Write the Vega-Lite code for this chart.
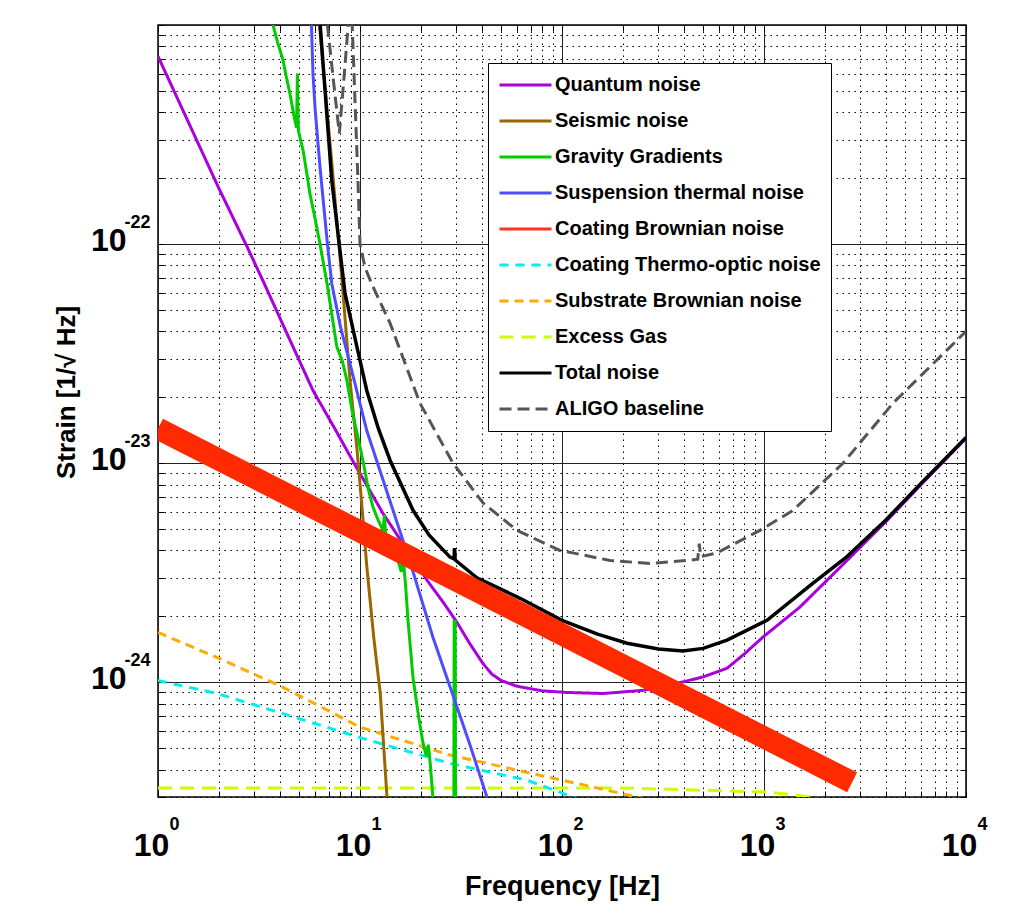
{
  "$schema": "https://vega.github.io/schema/vega-lite/v6.json",
  "width": 808,
  "height": 772,
  "autosize": "none",
  "padding": {"left": 158, "top": 25, "right": 45, "bottom": 124},
  "background": "white",
  "config": {
    "font": "Liberation Sans",
    "view": {"stroke": "black", "strokeWidth": 1.5},
    "axis": {"labelFont": "Liberation Sans", "titleFont": "Liberation Sans", "labelColor": "black", "titleColor": "black", "tickColor": "black", "domain": false}
  },
  "data": {"values": [
    {"series": "ALIGO baseline", "f": 6.9, "s": 1e-21},
    {"series": "ALIGO baseline", "f": 7.4, "s": 5.5e-22},
    {"series": "ALIGO baseline", "f": 7.9, "s": 3.2e-22},
    {"series": "ALIGO baseline", "f": 8.3, "s": 5.5e-22},
    {"series": "ALIGO baseline", "f": 8.74, "s": 1e-21},
    {"series": "ALIGO baseline", "f": 8.95, "s": 1.8e-21},
    {"series": "ALIGO baseline", "f": 9.15, "s": 1e-21},
    {"series": "ALIGO baseline", "f": 9.77, "s": 1.95e-22},
    {"series": "ALIGO baseline", "f": 10.0, "s": 1.0e-22},
    {"series": "ALIGO baseline", "f": 10.6, "s": 7.8e-23},
    {"series": "ALIGO baseline", "f": 11.5, "s": 6.5e-23},
    {"series": "ALIGO baseline", "f": 14.1, "s": 4.35e-23},
    {"series": "ALIGO baseline", "f": 19.8, "s": 1.88e-23},
    {"series": "ALIGO baseline", "f": 28.9, "s": 1.0e-23},
    {"series": "ALIGO baseline", "f": 40.6, "s": 6.6e-24},
    {"series": "ALIGO baseline", "f": 59.9, "s": 4.94e-24},
    {"series": "ALIGO baseline", "f": 97.6, "s": 4.0e-24},
    {"series": "ALIGO baseline", "f": 113, "s": 3.9e-24},
    {"series": "ALIGO baseline", "f": 173, "s": 3.6e-24},
    {"series": "ALIGO baseline", "f": 273, "s": 3.49e-24},
    {"series": "ALIGO baseline", "f": 416, "s": 3.6e-24},
    {"series": "ALIGO baseline", "f": 470, "s": 3.65e-24},
    {"series": "ALIGO baseline", "f": 478, "s": 4.3e-24},
    {"series": "ALIGO baseline", "f": 486, "s": 3.75e-24},
    {"series": "ALIGO baseline", "f": 585, "s": 3.9e-24},
    {"series": "ALIGO baseline", "f": 955, "s": 4.94e-24},
    {"series": "ALIGO baseline", "f": 1393, "s": 6.1e-24},
    {"series": "ALIGO baseline", "f": 2460, "s": 1.0e-23},
    {"series": "ALIGO baseline", "f": 4350, "s": 1.88e-23},
    {"series": "ALIGO baseline", "f": 10000, "s": 4.0e-23},

    {"series": "Excess Gas", "f": 1, "s": 3.3e-25},
    {"series": "Excess Gas", "f": 200, "s": 3.3e-25},
    {"series": "Excess Gas", "f": 450, "s": 3.23e-25},
    {"series": "Excess Gas", "f": 1035, "s": 3.16e-25},
    {"series": "Excess Gas", "f": 1750, "s": 3.0e-25},
    {"series": "Excess Gas", "f": 2500, "s": 2.8e-25},

    {"series": "Substrate Brownian noise", "f": 1, "s": 1.69e-24},
    {"series": "Substrate Brownian noise", "f": 1.96, "s": 1.3e-24},
    {"series": "Substrate Brownian noise", "f": 4.16, "s": 9.5e-25},
    {"series": "Substrate Brownian noise", "f": 10, "s": 6.25e-25},
    {"series": "Substrate Brownian noise", "f": 27.9, "s": 4.66e-25},
    {"series": "Substrate Brownian noise", "f": 100, "s": 3.58e-25},
    {"series": "Substrate Brownian noise", "f": 235, "s": 3.0e-25},
    {"series": "Substrate Brownian noise", "f": 400, "s": 2.65e-25},

    {"series": "Coating Thermo-optic noise", "f": 1, "s": 1.02e-24},
    {"series": "Coating Thermo-optic noise", "f": 1.96, "s": 8.9e-25},
    {"series": "Coating Thermo-optic noise", "f": 4.16, "s": 7.2e-25},
    {"series": "Coating Thermo-optic noise", "f": 10, "s": 5.6e-25},
    {"series": "Coating Thermo-optic noise", "f": 27.9, "s": 4.27e-25},
    {"series": "Coating Thermo-optic noise", "f": 67, "s": 3.58e-25},
    {"series": "Coating Thermo-optic noise", "f": 100, "s": 3.13e-25},
    {"series": "Coating Thermo-optic noise", "f": 150, "s": 2.7e-25},

    {"series": "Quantum noise", "f": 1, "s": 7.2e-22},
    {"series": "Quantum noise", "f": 1.5, "s": 3.2e-22},
    {"series": "Quantum noise", "f": 2, "s": 1.8e-22},
    {"series": "Quantum noise", "f": 2.75, "s": 9.8e-23},
    {"series": "Quantum noise", "f": 3.31, "s": 6.8e-23},
    {"series": "Quantum noise", "f": 4.5, "s": 3.65e-23},
    {"series": "Quantum noise", "f": 5.85, "s": 2.15e-23},
    {"series": "Quantum noise", "f": 7.5, "s": 1.44e-23},
    {"series": "Quantum noise", "f": 9.35, "s": 1.0e-23},
    {"series": "Quantum noise", "f": 13, "s": 5.9e-24},
    {"series": "Quantum noise", "f": 17, "s": 4.06e-24},
    {"series": "Quantum noise", "f": 21.5, "s": 2.92e-24},
    {"series": "Quantum noise", "f": 26, "s": 2.3e-24},
    {"series": "Quantum noise", "f": 30.2, "s": 1.88e-24},
    {"series": "Quantum noise", "f": 35, "s": 1.5e-24},
    {"series": "Quantum noise", "f": 40.6, "s": 1.22e-24},
    {"series": "Quantum noise", "f": 45, "s": 1.09e-24},
    {"series": "Quantum noise", "f": 50, "s": 1.02e-24},
    {"series": "Quantum noise", "f": 60, "s": 9.6e-25},
    {"series": "Quantum noise", "f": 80, "s": 9.15e-25},
    {"series": "Quantum noise", "f": 106, "s": 9.0e-25},
    {"series": "Quantum noise", "f": 160, "s": 8.9e-25},
    {"series": "Quantum noise", "f": 252, "s": 9.2e-25},
    {"series": "Quantum noise", "f": 371, "s": 9.9e-25},
    {"series": "Quantum noise", "f": 500, "s": 1.06e-24},
    {"series": "Quantum noise", "f": 656, "s": 1.16e-24},
    {"series": "Quantum noise", "f": 800, "s": 1.35e-24},
    {"series": "Quantum noise", "f": 988, "s": 1.61e-24},
    {"series": "Quantum noise", "f": 1500, "s": 2.2e-24},
    {"series": "Quantum noise", "f": 2576, "s": 3.6e-24},
    {"series": "Quantum noise", "f": 4000, "s": 5.4e-24},
    {"series": "Quantum noise", "f": 6000, "s": 8.0e-24},
    {"series": "Quantum noise", "f": 10000, "s": 1.3e-23},

    {"series": "Seismic noise", "f": 6.3, "s": 1e-21},
    {"series": "Seismic noise", "f": 7.25, "s": 2.35e-22},
    {"series": "Seismic noise", "f": 8.15, "s": 6.8e-23},
    {"series": "Seismic noise", "f": 8.92, "s": 2.4e-23},
    {"series": "Seismic noise", "f": 9.67, "s": 1.15e-23},
    {"series": "Seismic noise", "f": 10.2, "s": 6.5e-24},
    {"series": "Seismic noise", "f": 10.8, "s": 3.4e-24},
    {"series": "Seismic noise", "f": 11.7, "s": 1.6e-24},
    {"series": "Seismic noise", "f": 12.6, "s": 8.9e-25},
    {"series": "Seismic noise", "f": 13.6, "s": 3.0e-25},
    {"series": "Seismic noise", "f": 14.5, "s": 1.2e-25},

    {"series": "Gravity Gradients", "f": 3.6, "s": 1.2e-21},
    {"series": "Gravity Gradients", "f": 3.71, "s": 1e-21},
    {"series": "Gravity Gradients", "f": 3.9, "s": 8.4e-22},
    {"series": "Gravity Gradients", "f": 4.16, "s": 6.9e-22},
    {"series": "Gravity Gradients", "f": 4.3, "s": 5.9e-22},
    {"series": "Gravity Gradients", "f": 4.5, "s": 4.86e-22},
    {"series": "Gravity Gradients", "f": 4.7, "s": 3.9e-22},
    {"series": "Gravity Gradients", "f": 4.85, "s": 3.4e-22},
    {"series": "Gravity Gradients", "f": 4.9, "s": 6.0e-22},
    {"series": "Gravity Gradients", "f": 4.95, "s": 3.3e-22},
    {"series": "Gravity Gradients", "f": 5.23, "s": 2.67e-22},
    {"series": "Gravity Gradients", "f": 5.5, "s": 2.0e-22},
    {"series": "Gravity Gradients", "f": 5.65, "s": 1.7e-22},
    {"series": "Gravity Gradients", "f": 6.0, "s": 1.3e-22},
    {"series": "Gravity Gradients", "f": 6.34, "s": 1.0e-22},
    {"series": "Gravity Gradients", "f": 6.87, "s": 6.6e-23},
    {"series": "Gravity Gradients", "f": 7.3, "s": 4.6e-23},
    {"series": "Gravity Gradients", "f": 7.68, "s": 3.4e-23},
    {"series": "Gravity Gradients", "f": 8.2, "s": 2.9e-23},
    {"series": "Gravity Gradients", "f": 8.6, "s": 2.4e-23},
    {"series": "Gravity Gradients", "f": 9.2, "s": 1.68e-23},
    {"series": "Gravity Gradients", "f": 9.8, "s": 1.3e-23},
    {"series": "Gravity Gradients", "f": 10.4, "s": 1.0e-23},
    {"series": "Gravity Gradients", "f": 11.0, "s": 7.6e-24},
    {"series": "Gravity Gradients", "f": 11.6, "s": 6.3e-24},
    {"series": "Gravity Gradients", "f": 12.3, "s": 5.5e-24},
    {"series": "Gravity Gradients", "f": 13.0, "s": 4.94e-24},
    {"series": "Gravity Gradients", "f": 13.2, "s": 5.8e-24},
    {"series": "Gravity Gradients", "f": 13.4, "s": 4.7e-24},
    {"series": "Gravity Gradients", "f": 14.3, "s": 4.2e-24},
    {"series": "Gravity Gradients", "f": 15.3, "s": 3.7e-24},
    {"series": "Gravity Gradients", "f": 16.0, "s": 3.2e-24},
    {"series": "Gravity Gradients", "f": 16.4, "s": 3.6e-24},
    {"series": "Gravity Gradients", "f": 16.8, "s": 2.8e-24},
    {"series": "Gravity Gradients", "f": 17.3, "s": 1.9e-24},
    {"series": "Gravity Gradients", "f": 18.3, "s": 1.05e-24},
    {"series": "Gravity Gradients", "f": 19.5, "s": 7.0e-25},
    {"series": "Gravity Gradients", "f": 20.5, "s": 5.3e-25},
    {"series": "Gravity Gradients", "f": 21.3, "s": 4.6e-25},
    {"series": "Gravity Gradients", "f": 21.8, "s": 5.2e-25},
    {"series": "Gravity Gradients", "f": 22.3, "s": 4.2e-25},
    {"series": "Gravity Gradients", "f": 23.0, "s": 2.9e-25},
    {"series": "Gravity Gradients", "f": 23.5, "s": 1e-25},
    {"series": "Gravity Gradients", "f": 29.1, "s": 1e-25},
    {"series": "Gravity Gradients", "f": 29.25, "s": 1.9e-24},
    {"series": "Gravity Gradients", "f": 29.6, "s": 1.9e-24},
    {"series": "Gravity Gradients", "f": 29.75, "s": 1e-25},
    {"series": "Gravity Gradients", "f": 31, "s": 1e-25},

    {"series": "Suspension thermal noise", "f": 5.65, "s": 1.2e-21},
    {"series": "Suspension thermal noise", "f": 5.75, "s": 1e-21},
    {"series": "Suspension thermal noise", "f": 5.85, "s": 6.0e-22},
    {"series": "Suspension thermal noise", "f": 6.0, "s": 4.1e-22},
    {"series": "Suspension thermal noise", "f": 6.34, "s": 2.24e-22},
    {"series": "Suspension thermal noise", "f": 6.9, "s": 1.0e-22},
    {"series": "Suspension thermal noise", "f": 7.25, "s": 6.6e-23},
    {"series": "Suspension thermal noise", "f": 8.0, "s": 4.2e-23},
    {"series": "Suspension thermal noise", "f": 8.92, "s": 2.85e-23},
    {"series": "Suspension thermal noise", "f": 10.8, "s": 1.41e-23},
    {"series": "Suspension thermal noise", "f": 13, "s": 8.4e-24},
    {"series": "Suspension thermal noise", "f": 16.3, "s": 4.46e-24},
    {"series": "Suspension thermal noise", "f": 18.3, "s": 3.2e-24},
    {"series": "Suspension thermal noise", "f": 23, "s": 1.6e-24},
    {"series": "Suspension thermal noise", "f": 28.9, "s": 8.7e-25},
    {"series": "Suspension thermal noise", "f": 35, "s": 5.2e-25},
    {"series": "Suspension thermal noise", "f": 42.5, "s": 3.0e-25},
    {"series": "Suspension thermal noise", "f": 50, "s": 2.0e-25},

    {"series": "Total noise", "f": 6.35, "s": 1e-21},
    {"series": "Total noise", "f": 7.25, "s": 1.95e-22},
    {"series": "Total noise", "f": 8.43, "s": 5.96e-23},
    {"series": "Total noise", "f": 9.67, "s": 3.38e-23},
    {"series": "Total noise", "f": 10.8, "s": 2.15e-23},
    {"series": "Total noise", "f": 12.3, "s": 1.45e-23},
    {"series": "Total noise", "f": 14.1, "s": 1.03e-23},
    {"series": "Total noise", "f": 18.3, "s": 6.1e-24},
    {"series": "Total noise", "f": 22, "s": 4.7e-24},
    {"series": "Total noise", "f": 27.9, "s": 3.73e-24},
    {"series": "Total noise", "f": 29.2, "s": 3.66e-24},
    {"series": "Total noise", "f": 29.4, "s": 4.1e-24},
    {"series": "Total noise", "f": 29.6, "s": 3.62e-24},
    {"series": "Total noise", "f": 37.9, "s": 3.0e-24},
    {"series": "Total noise", "f": 62, "s": 2.42e-24},
    {"series": "Total noise", "f": 100, "s": 1.92e-24},
    {"series": "Total noise", "f": 150, "s": 1.66e-24},
    {"series": "Total noise", "f": 210, "s": 1.51e-24},
    {"series": "Total noise", "f": 300, "s": 1.42e-24},
    {"series": "Total noise", "f": 397, "s": 1.39e-24},
    {"series": "Total noise", "f": 500, "s": 1.43e-24},
    {"series": "Total noise", "f": 656, "s": 1.56e-24},
    {"series": "Total noise", "f": 1035, "s": 1.92e-24},
    {"series": "Total noise", "f": 1749, "s": 2.84e-24},
    {"series": "Total noise", "f": 2576, "s": 3.75e-24},
    {"series": "Total noise", "f": 4000, "s": 5.5e-24},
    {"series": "Total noise", "f": 6000, "s": 8.1e-24},
    {"series": "Total noise", "f": 10000, "s": 1.31e-23},

    {"series": "Coating Brownian noise", "f": 1, "s": 1.44e-23},
    {"series": "Coating Brownian noise", "f": 2730, "s": 3.5e-25}
  ]},
  "resolve": {"axis": {"x": "independent", "y": "independent"}},
  "layer": [
    {
      "transform": [{"filter": "datum.series != 'Total noise' && datum.series != 'Coating Brownian noise'"}],
      "mark": {"type": "line", "clip": true, "strokeCap": "butt", "strokeJoin": "miter"},
      "encoding": {
        "x": {"field": "f", "type": "quantitative",
          "scale": {"type": "log", "domain": [1, 10000], "nice": false},
          "axis": {
            "orient": "bottom",
            "values": [1,2,3,4,5,6,7,8,9,10,20,30,40,50,60,70,80,90,100,200,300,400,500,600,700,800,900,1000,2000,3000,4000,5000,6000,7000,8000,9000,10000],
            "labelExpr": "indexof([1,10,100,1000,10000], datum.value) >= 0 ? '10' : ''",
            "labelFontSize": 32, "labelFontWeight": "bold", "labelPadding": 39, "labelOffset": -7, "labelOverlap": false, "labelFlush": false,
            "grid": true,
            "gridColor": {"condition": {"test": "indexof([1,10,100,1000,10000], datum.value) >= 0", "value": "#222222"}, "value": "#000000"},
            "gridDash": {"condition": {"test": "indexof([1,10,100,1000,10000], datum.value) >= 0", "value": []}, "value": [1.5, 4.5]},
            "gridWidth": 1,
            "tickSize": -6, "tickWidth": 1,
            "title": "Frequency [Hz]", "titleFontSize": 27, "titleFontWeight": "bold",
            "titleX": 404, "titleY": 76, "titleAlign": "center", "titleBaseline": "top"
          }
        },
        "y": {"field": "s", "type": "quantitative",
          "scale": {"type": "log", "domain": [3e-25, 1e-21], "nice": false},
          "axis": {
            "orient": "left",
            "values": [3e-25,4e-25,5e-25,6e-25,7e-25,8e-25,9e-25,1e-24,2e-24,3e-24,4e-24,5e-24,6e-24,7e-24,8e-24,9e-24,1e-23,2e-23,3e-23,4e-23,5e-23,6e-23,7e-23,8e-23,9e-23,1e-22,2e-22,3e-22,4e-22,5e-22,6e-22,7e-22,8e-22,9e-22,1e-21],
            "labelExpr": "indexof([1e-22,1e-23,1e-24], datum.value) >= 0 ? '10' : ''",
            "labelFontSize": 32, "labelFontWeight": "bold", "labelPadding": 38, "labelOffset": -4, "labelOverlap": false, "labelFlush": false,
            "grid": true,
            "gridColor": {"condition": {"test": "indexof([1e-21,1e-22,1e-23,1e-24], datum.value) >= 0", "value": "#222222"}, "value": "#000000"},
            "gridDash": {"condition": {"test": "indexof([1e-21,1e-22,1e-23,1e-24], datum.value) >= 0", "value": []}, "value": [1.5, 4.5]},
            "gridWidth": 1,
            "tickSize": -6, "tickWidth": 1,
            "title": "Strain [1/√ Hz]", "titleFontSize": 26, "titleFontWeight": "bold",
            "titleX": -79, "titleY": 367, "titleAngle": 270, "titleAlign": "center", "titleBaseline": "bottom"
          }
        },
        "color": {"field": "series", "type": "nominal",
          "scale": {
            "domain": ["Quantum noise", "Seismic noise", "Gravity Gradients", "Suspension thermal noise", "Coating Brownian noise", "Coating Thermo-optic noise", "Substrate Brownian noise", "Excess Gas", "Total noise", "ALIGO baseline"],
            "range": ["#aa00dd", "#996600", "#00cc00", "#4d4dff", "#ff3322", "#00eeee", "#ffaa00", "#ccff00", "#000000", "#555555"]
          },
          "legend": {"orient": "none", "legendX": 330, "legendY": 38, "title": null, "symbolType": "stroke", "symbolSize": 2704, "symbolStrokeWidth": 4, "clipHeight": 24, "rowPadding": 12, "padding": 10, "labelFontSize": 20, "labelFontWeight": "bold", "labelFont": "Liberation Sans", "labelColor": "black", "labelOffset": 2, "labelLimit": 400, "strokeColor": "black", "fillColor": "white", "cornerRadius": 0}
        },
        "strokeDash": {"field": "series", "type": "nominal",
          "scale": {
            "domain": ["Quantum noise", "Seismic noise", "Gravity Gradients", "Suspension thermal noise", "Coating Brownian noise", "Coating Thermo-optic noise", "Substrate Brownian noise", "Excess Gas", "Total noise", "ALIGO baseline"],
            "range": [[1, 0], [1, 0], [1, 0], [1, 0], [1, 0], [9, 7], [9, 6], [14, 8], [1, 0], [12, 6]]
          },
          "legend": {"orient": "none", "legendX": 330, "legendY": 38, "title": null, "symbolType": "stroke", "symbolSize": 2704, "symbolStrokeWidth": 4, "clipHeight": 24, "rowPadding": 12, "padding": 10, "labelFontSize": 20, "labelFontWeight": "bold", "labelFont": "Liberation Sans", "labelColor": "black", "labelOffset": 2, "labelLimit": 400, "strokeColor": "black", "fillColor": "white", "cornerRadius": 0}
        },
        "strokeWidth": {"field": "series", "type": "nominal",
          "scale": {
            "domain": ["Quantum noise", "Seismic noise", "Gravity Gradients", "Suspension thermal noise", "Coating Brownian noise", "Coating Thermo-optic noise", "Substrate Brownian noise", "Excess Gas", "Total noise", "ALIGO baseline"],
            "range": [3, 3, 4, 3, 3, 4, 4, 5, 3.5, 4]
          },
          "legend": null
        }
      }
    },
    {
      "transform": [{"filter": "datum.series == 'Total noise'"}],
      "mark": {"type": "line", "clip": true, "color": "#000000", "strokeWidth": 3.5},
      "encoding": {
        "x": {"field": "f", "type": "quantitative", "scale": {"type": "log", "domain": [1, 10000], "nice": false},
          "axis": {"orient": "bottom", "values": [1, 10, 100, 1000, 10000],
            "labelExpr": "datum.value == 1 ? '0' : datum.value == 10 ? '1' : datum.value == 100 ? '2' : datum.value == 1000 ? '3' : '4'",
            "labelFontSize": 18, "labelFontWeight": "bold", "labelPadding": 18, "labelOffset": 16, "labelOverlap": false, "labelFlush": false,
            "ticks": false, "grid": false, "domain": false, "title": null}},
        "y": {"field": "s", "type": "quantitative", "scale": {"type": "log", "domain": [3e-25, 1e-21], "nice": false},
          "axis": {"orient": "left", "values": [1e-22, 1e-23, 1e-24],
            "labelExpr": "datum.value == 1e-22 ? '-22' : datum.value == 1e-23 ? '-23' : '-24'",
            "labelFontSize": 18, "labelFontWeight": "bold", "labelPadding": 8, "labelOffset": -22, "labelOverlap": false, "labelFlush": false,
            "ticks": false, "grid": false, "domain": false, "title": null}}
      }
    },
    {
      "transform": [{"filter": "datum.series == 'Coating Brownian noise'"}],
      "mark": {"type": "line", "clip": true, "color": "#ff2a00", "strokeWidth": 22, "strokeCap": "butt"},
      "encoding": {
        "x": {"field": "f", "type": "quantitative", "scale": {"type": "log", "domain": [1, 10000], "nice": false},
          "axis": {"orient": "top", "values": [1,2,3,4,5,6,7,8,9,10,20,30,40,50,60,70,80,90,100,200,300,400,500,600,700,800,900,1000,2000,3000,4000,5000,6000,7000,8000,9000,10000], "labels": false, "title": null, "grid": false, "tickSize": -6, "tickWidth": 1}},
        "y": {"field": "s", "type": "quantitative", "scale": {"type": "log", "domain": [3e-25, 1e-21], "nice": false},
          "axis": {"orient": "right", "values": [3e-25,4e-25,5e-25,6e-25,7e-25,8e-25,9e-25,1e-24,2e-24,3e-24,4e-24,5e-24,6e-24,7e-24,8e-24,9e-24,1e-23,2e-23,3e-23,4e-23,5e-23,6e-23,7e-23,8e-23,9e-23,1e-22,2e-22,3e-22,4e-22,5e-22,6e-22,7e-22,8e-22,9e-22,1e-21], "labels": false, "title": null, "grid": false, "tickSize": -6, "tickWidth": 1}}
      }
    }
  ]
}
